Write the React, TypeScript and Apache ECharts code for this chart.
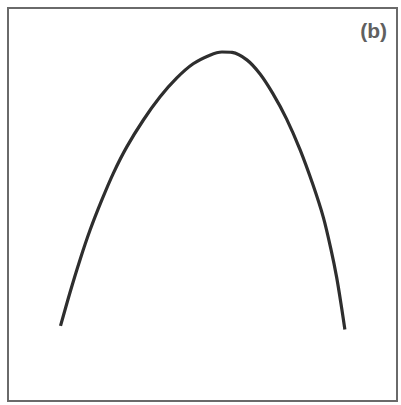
import React, { useEffect, useRef } from "react";
import * as echarts from "echarts";

const xValues = [13.5, 15.9, 18.5, 21.1, 24.1, 27.1, 30.5, 34.8, 39.1, 43.4, 47.6, 51.9, 55.0, 57.6, 61.4, 64.8, 68.1, 71.6, 75.1, 78.4, 81.1, 83.0, 84.5, 85.8, 86.6];
const yValues = [19.1, 27.5, 35.9, 43.5, 51.1, 58.0, 64.6, 71.5, 77.4, 82.2, 85.8, 88.0, 88.8, 88.7, 86.8, 83.2, 78.2, 71.8, 63.9, 55.0, 46.6, 38.7, 31.4, 23.5, 18.2];
const panelLabel = "(b)";

export default function App() {
  const ref = useRef<HTMLDivElement>(null);
  useEffect(() => {
    if (!ref.current) return;
    const chart = echarts.init(ref.current, null, { renderer: "svg" });
    chart.setOption({
      animation: false,
      backgroundColor: "#ffffff",
      title: {
        text: panelLabel,
        right: 9,
        top: 15,
        textStyle: { fontSize: 21, color: "#606060", fontWeight: "bold", fontFamily: "Liberation Sans" },
      },
      grid: {
        show: true,
        left: 8,
        top: 8,
        right: 4,
        bottom: 4,
        borderColor: "#6a6a6a",
        borderWidth: 2,
        backgroundColor: "transparent",
      },
      xAxis: { type: "value", min: 0, max: 100, show: false },
      yAxis: { type: "value", min: 0, max: 100, show: false },
      series: [
        {
          type: "line",
          data: xValues.map((x, i) => [x, yValues[i]]),
          smooth: 0.3,
          symbol: "none",
          lineStyle: { color: "#2e2e2e", width: 3.2 },
        },
      ],
    });
    return () => chart.dispose();
  }, []);
  return <div ref={ref} style={{ position: "fixed", left: 0, top: 0, width: 401, height: 405 }} />;
}
